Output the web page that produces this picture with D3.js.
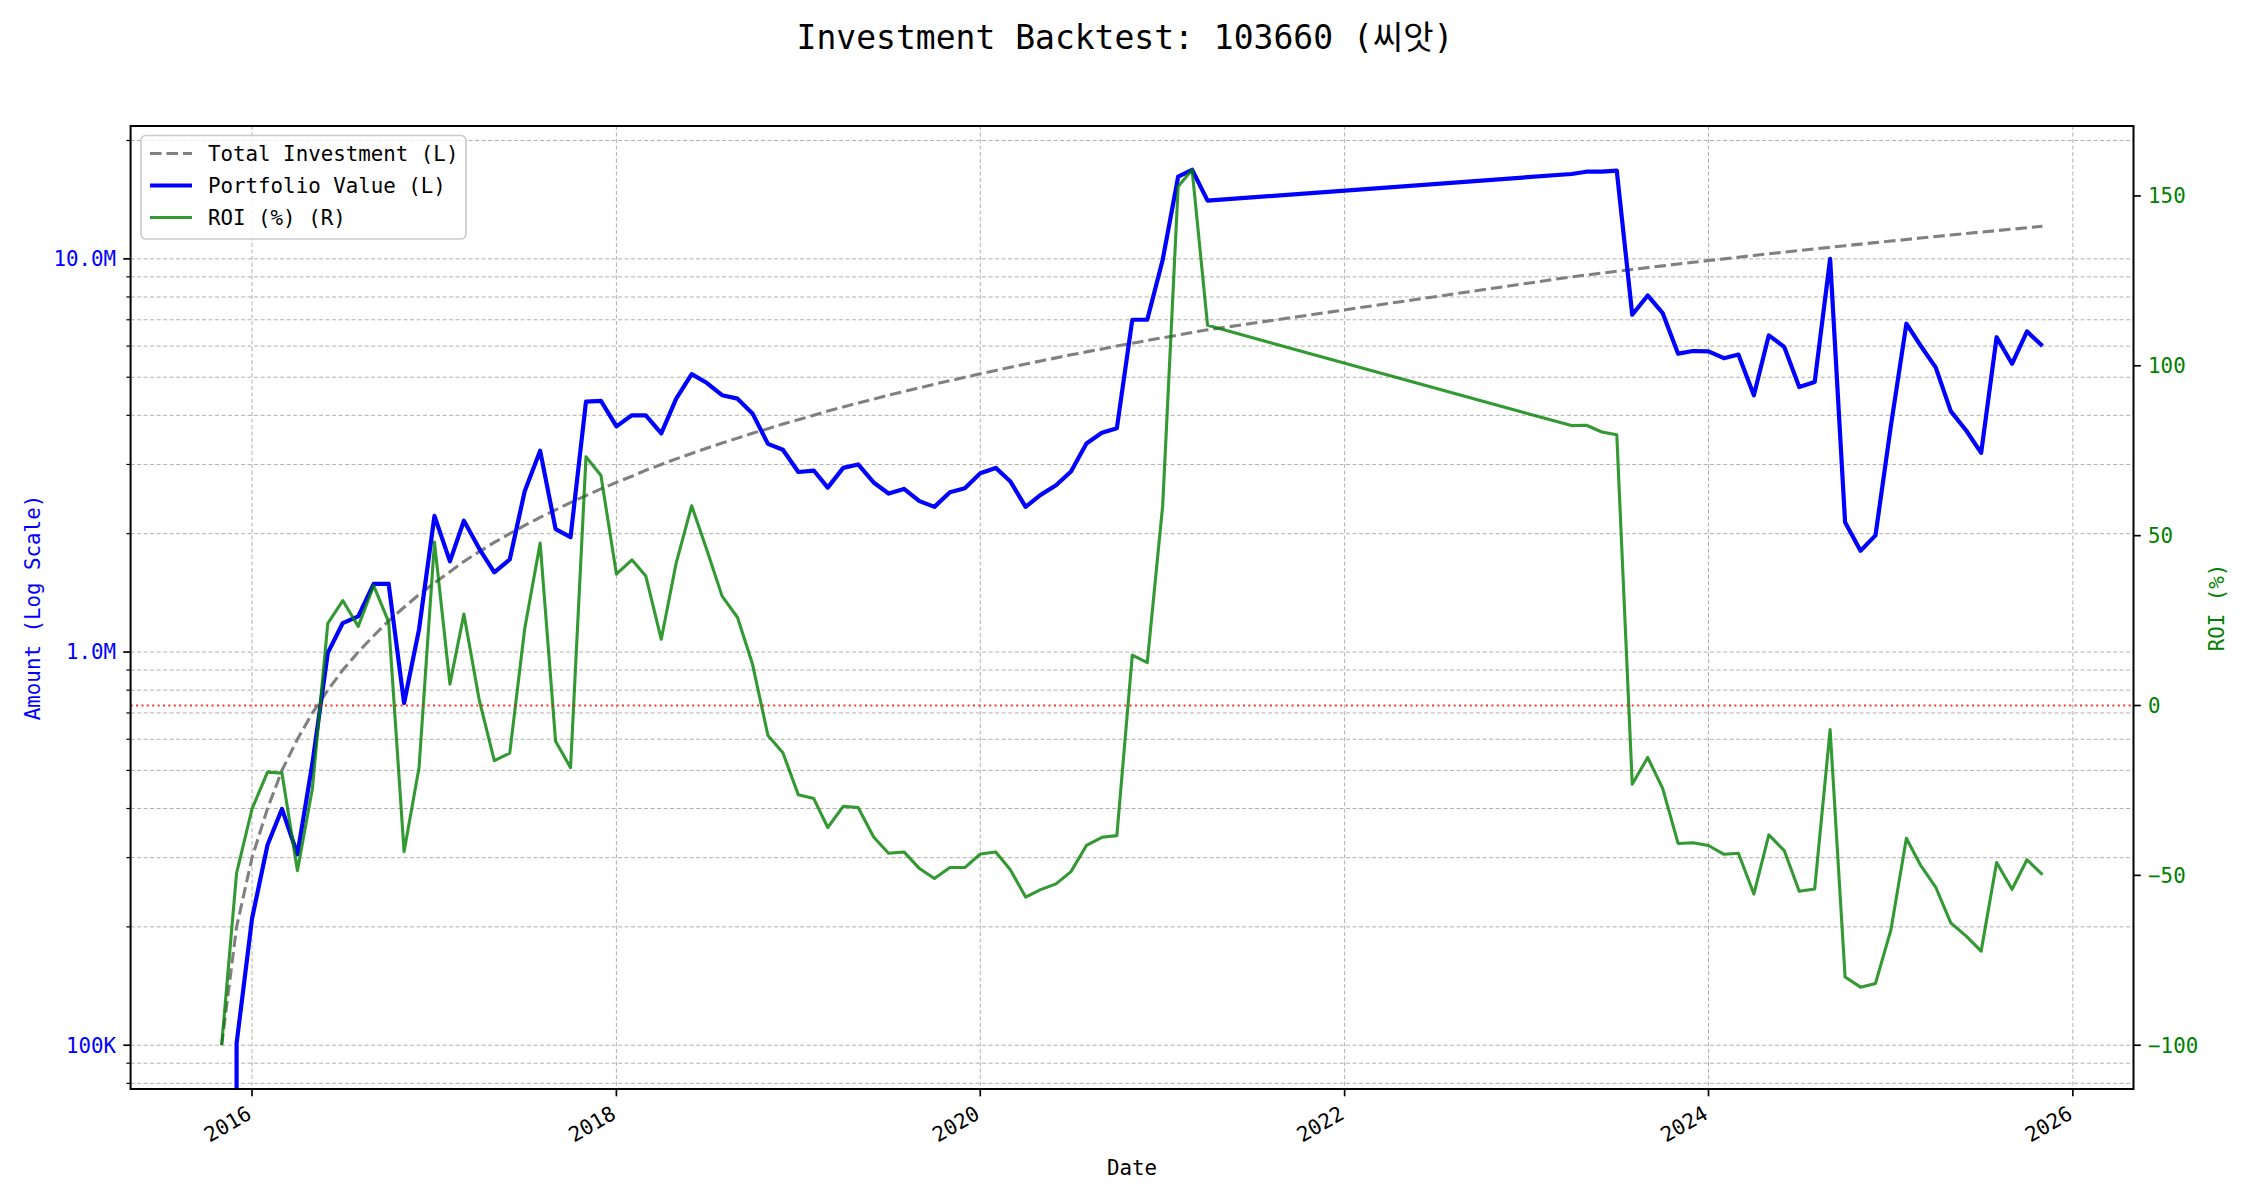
<!DOCTYPE html>
<html><head><meta charset="utf-8">
<script src="https://cdn.jsdelivr.net/npm/d3@7"></script>
<style>
body{margin:0;background:#fff}
text{font-family:"DejaVu Sans Mono","Noto Sans CJK KR",monospace}
</style>
</head><body>
<svg id="chart" width="2250" height="1200"></svg>
<script>
// ---------------- data ----------------
const dates = [
"2015-11","2015-12",
"2016-01","2016-02","2016-03","2016-04","2016-05","2016-06","2016-07","2016-08","2016-09","2016-10","2016-11","2016-12",
"2017-01","2017-02","2017-03","2017-04","2017-05","2017-06","2017-07","2017-08","2017-09","2017-10","2017-11","2017-12",
"2018-01","2018-02","2018-03","2018-04","2018-05","2018-06","2018-07","2018-08","2018-09","2018-10","2018-11","2018-12",
"2019-01","2019-02","2019-03","2019-04","2019-05","2019-06","2019-07","2019-08","2019-09","2019-10","2019-11","2019-12",
"2020-01","2020-02","2020-03","2020-04","2020-05","2020-06","2020-07","2020-08","2020-09","2020-10","2020-11","2020-12",
"2021-01","2021-02","2021-03","2021-04",
"2023-04","2023-05","2023-06","2023-07","2023-08","2023-09","2023-10","2023-11","2023-12",
"2024-01","2024-02","2024-03","2024-04","2024-05","2024-06","2024-07","2024-08","2024-09","2024-10","2024-11","2024-12",
"2025-01","2025-02","2025-03","2025-04","2025-05","2025-06","2025-07","2025-08","2025-09","2025-10","2025-11"
];
const totalInvestment = [
100000,200000,300000,400000,500000,600000,700000,800000,900000,1000000,
1100000,1200000,1300000,1400000,1500000,1600000,1700000,1800000,1900000,2000000,
2100000,2200000,2300000,2400000,2500000,2600000,2700000,2800000,2900000,3000000,
3100000,3200000,3300000,3400000,3500000,3600000,3700000,3800000,3900000,4000000,
4100000,4200000,4300000,4400000,4500000,4600000,4700000,4800000,4900000,5000000,
5100000,5200000,5300000,5400000,5500000,5600000,5700000,5800000,5900000,6000000,
6100000,6200000,6300000,6400000,6500000,6600000,
9000000,9100000,9200000,9300000,9400000,9500000,9600000,9700000,9800000,9900000,
10000000,10100000,10200000,10300000,10400000,10500000,10600000,10700000,10800000,10900000,
11000000,11100000,11200000,11300000,11400000,11500000,11600000,11700000,11800000,11900000,
12000000,12100000
];
const portfolioValue = [
0,101000,210000,323000,399000,306000,520000,995000,1185000,1232000,
1490000,1492000,742000,1142000,2220000,1700000,2158000,1830000,1595000,1720000,
2565000,3250000,2055000,1960000,4335000,4355000,3750000,4000000,4000000,3600000,
4410000,5090000,4840000,4500000,4410000,4045000,3385000,3270000,2870000,2895000,
2620000,2940000,3000000,2700000,2530000,2600000,2420000,2340000,2550000,2610000,
2850000,2940000,2720000,2340000,2510000,2655000,2880000,3390000,3610000,3710000,
7000000,7000000,9950000,16180000,16850000,14060000,
16440000,16660000,16660000,16760000,7210000,8070000,7280000,5740000,5830000,5820000,
5590000,5710000,4500000,6390000,5970000,4720000,4860000,10000000,2140000,1810000,
1980000,3770000,6840000,6030000,5290000,4100000,3660000,3210000,6320000,5410000,
6540000,6000000
];
const roiPct = [
-100,-49.3,-30.4,-19.6,-19.9,-48.6,-24.5,24.2,30.9,23.3,
35.3,24.6,-43.0,-18.3,48.1,6.3,26.9,1.5,-16.2,-14.0,
22.6,47.8,-10.5,-18.3,73.2,67.7,38.7,42.9,38.1,19.5,
42.0,58.8,46.0,32.2,25.9,12.2,-8.8,-13.9,-26.3,-27.4,
-35.9,-29.7,-30.0,-38.7,-43.5,-43.1,-48.0,-50.9,-47.7,-47.7,
-43.7,-43.1,-48.3,-56.4,-54.2,-52.5,-48.9,-41.2,-38.8,-38.3,
14.8,12.6,58.9,152.8,157.7,111.9,
82.4,82.5,80.5,79.7,-23.2,-15.3,-24.4,-40.6,-40.4,-41.2,
-43.8,-43.5,-55.5,-38.1,-42.7,-54.7,-54.0,-7.1,-79.9,-82.9,
-81.8,-66.0,-39.1,-46.9,-53.5,-64.0,-67.9,-72.3,-46.2,-54.1,
-45.4,-49.8
];
const leftTickValues = [100000, 1000000, 10000000];
const leftTickLabels = ["100K", "1.0M", "10.0M"];
const rightTickValues = [-100, -50, 0, 50, 100, 150];
const xTickYears = [2016, 2018, 2020, 2022, 2024, 2026];
const seriesNames = ["Total Investment (L)", "Portfolio Value (L)", "ROI (%) (R)"];
const titleText = "Investment Backtest: 103660 (씨앗)";

// ---------------- layout ----------------
const plot = {left: 130.6, right: 2133.5, top: 126, bottom: 1089};
const FS = 20.8;
const svg = d3.select("#chart");
svg.append("rect").attr("width", 2250).attr("height", 1200).attr("fill", "#fff");

const parse = d3.timeParse("%Y-%m");
const rows = dates.map((d, i) => ({date: parse(d), inv: totalInvestment[i], pv: portfolioValue[i], roi: roiPct[i]}));
const t0 = rows[0].date, t1 = rows[rows.length - 1].date, span = t1 - t0;
const x = d3.scaleTime()
  .domain([new Date(+t0 - 0.05 * span), new Date(+t1 + 0.05 * span)])
  .range([plot.left, plot.right]);
const pos = totalInvestment.concat(portfolioValue).filter(v => v > 0);
const lmin = Math.log10(d3.min(pos)), lmax = Math.log10(d3.max(pos)), lr = lmax - lmin;
const yL = d3.scaleLog().domain([10 ** (lmin - 0.05 * lr), 10 ** (lmax + 0.05 * lr)]).range([plot.bottom, plot.top]);
const rmin = d3.min(roiPct), rmax = d3.max(roiPct), rr = rmax - rmin;
const yR = d3.scaleLinear().domain([rmin - 0.05 * rr, rmax + 0.05 * rr]).range([plot.bottom, plot.top]);

// clip
svg.append("defs").append("clipPath").attr("id", "clip")
  .append("rect").attr("x", plot.left).attr("y", plot.top)
  .attr("width", plot.right - plot.left).attr("height", plot.bottom - plot.top);

// ---------------- grid ----------------
const grid = svg.append("g").attr("stroke", "#b0b0b0").attr("stroke-width", 1).attr("stroke-dasharray", "4,2.5");
const xTickDates = xTickYears.map(y => new Date(y, 0, 1));
grid.selectAll("line.v").data(xTickDates).enter().append("line")
  .attr("x1", d => x(d)).attr("x2", d => x(d)).attr("y1", plot.top).attr("y2", plot.bottom);
const logTicks = yL.ticks().filter(v => v >= yL.domain()[0] && v <= yL.domain()[1]);
grid.selectAll("line.h").data(logTicks).enter().append("line")
  .attr("x1", plot.left).attr("x2", plot.right).attr("y1", d => yL(d)).attr("y2", d => yL(d));

// ---------------- lines ----------------
const gLines = svg.append("g").attr("clip-path", "url(#clip)");
const lineInv = d3.line().x(d => x(d.date)).y(d => yL(d.inv));
gLines.append("path").datum(rows).attr("d", lineInv)
  .attr("fill", "none").attr("stroke", "#808080").attr("stroke-width", 3.1)
  .attr("stroke-dasharray", "11.5,5");
const linePv = d3.line().x(d => x(d.date)).y(d => d.pv > 0 ? yL(d.pv) : plot.bottom + 1e6);
gLines.append("path").datum(rows).attr("d", linePv)
  .attr("fill", "none").attr("stroke", "#0000ff").attr("stroke-width", 4.2)
  .attr("stroke-linejoin", "round");
const lineRoi = d3.line().x(d => x(d.date)).y(d => yR(d.roi));
gLines.append("path").datum(rows).attr("d", lineRoi)
  .attr("fill", "none").attr("stroke", "#008000").attr("stroke-opacity", 0.8).attr("stroke-width", 3.1)
  .attr("stroke-linejoin", "round");
gLines.append("line").attr("x1", plot.left).attr("x2", plot.right)
  .attr("y1", yR(0)).attr("y2", yR(0))
  .attr("stroke", "#ff0000").attr("stroke-opacity", 0.8).attr("stroke-width", 2)
  .attr("stroke-dasharray", "2,3.4");

// ---------------- axes ----------------
// left axis
const gl = svg.append("g");
gl.selectAll("line.minor").data(logTicks.filter(v => !leftTickValues.includes(v))).enter().append("line")
  .attr("x1", plot.left - 4.2).attr("x2", plot.left).attr("y1", d => yL(d)).attr("y2", d => yL(d))
  .attr("stroke", "#000").attr("stroke-width", 1.2);
gl.selectAll("line.major").data(leftTickValues).enter().append("line")
  .attr("x1", plot.left - 7.3).attr("x2", plot.left).attr("y1", d => yL(d)).attr("y2", d => yL(d))
  .attr("stroke", "#000").attr("stroke-width", 1.7);
gl.selectAll("text").data(leftTickValues).enter().append("text")
  .attr("x", plot.left - 14.6).attr("y", d => yL(d)).attr("dy", "0.35em")
  .attr("text-anchor", "end").attr("font-size", FS).attr("fill", "#0000ff")
  .text((d, i) => leftTickLabels[i]);

// right axis
const gr = svg.append("g");
gr.selectAll("line").data(rightTickValues).enter().append("line")
  .attr("x1", plot.right).attr("x2", plot.right + 7.3).attr("y1", d => yR(d)).attr("y2", d => yR(d))
  .attr("stroke", "#000").attr("stroke-width", 1.7);
gr.selectAll("text").data(rightTickValues).enter().append("text")
  .attr("x", plot.right + 14.6).attr("y", d => yR(d)).attr("dy", "0.35em")
  .attr("text-anchor", "start").attr("font-size", FS).attr("fill", "#008000")
  .text(d => d3.format("")(d).replace("-", "\u2212"));

// x axis
const gx = svg.append("g");
gx.selectAll("line").data(xTickDates).enter().append("line")
  .attr("x1", d => x(d)).attr("x2", d => x(d)).attr("y1", plot.bottom).attr("y2", plot.bottom + 7.3)
  .attr("stroke", "#000").attr("stroke-width", 1.7);
gx.selectAll("text").data(xTickDates).enter().append("text")
  .attr("transform", d => `translate(${x(d) - 7},${plot.bottom + 15}) rotate(-30)`)
  .attr("text-anchor", "end").attr("dy", "0.76em").attr("font-size", FS).attr("fill", "#000")
  .text(d => d3.timeFormat("%Y")(d));

// spines
svg.append("rect").attr("x", plot.left).attr("y", plot.top)
  .attr("width", plot.right - plot.left).attr("height", plot.bottom - plot.top)
  .attr("fill", "none").attr("stroke", "#000").attr("stroke-width", 2);

// labels
svg.append("text").attr("x", (plot.left + plot.right) / 2).attr("y", 1175)
  .attr("text-anchor", "middle").attr("font-size", FS).attr("fill", "#000").text("Date");
svg.append("text").attr("transform", `translate(40,${(plot.top + plot.bottom) / 2}) rotate(-90)`)
  .attr("text-anchor", "middle").attr("font-size", FS).attr("fill", "#0000ff").text("Amount (Log Scale)");
svg.append("text").attr("transform", `translate(2224,${(plot.top + plot.bottom) / 2}) rotate(-90)`)
  .attr("text-anchor", "middle").attr("font-size", FS).attr("fill", "#008000").text("ROI (%)");
svg.append("text").attr("x", 1125).attr("y", 49)
  .attr("text-anchor", "middle").attr("font-size", 33).attr("fill", "#000").text(titleText);

// legend
const lg = svg.append("g");
lg.append("rect").attr("x", 141).attr("y", 135.5).attr("width", 325).attr("height", 103.5).attr("rx", 5)
  .attr("fill", "#fff").attr("fill-opacity", 0.8).attr("stroke", "#cccccc").attr("stroke-width", 1.7);
const legendStyles = [
  {stroke: "#808080", width: 3.1, dash: "11.5,5", op: 1},
  {stroke: "#0000ff", width: 4.2, dash: null, op: 1},
  {stroke: "#008000", width: 3.1, dash: null, op: 0.8}
];
seriesNames.forEach((name, i) => {
  const yy = 153.5 + i * 32;
  const s = legendStyles[i];
  lg.append("line").attr("x1", 150).attr("x2", 192).attr("y1", yy).attr("y2", yy)
    .attr("stroke", s.stroke).attr("stroke-width", s.width).attr("stroke-opacity", s.op)
    .attr("stroke-dasharray", s.dash);
  lg.append("text").attr("x", 208).attr("y", yy).attr("dy", "0.35em")
    .attr("font-size", FS).attr("fill", "#000").text(name);
});
</script>
</body></html>
